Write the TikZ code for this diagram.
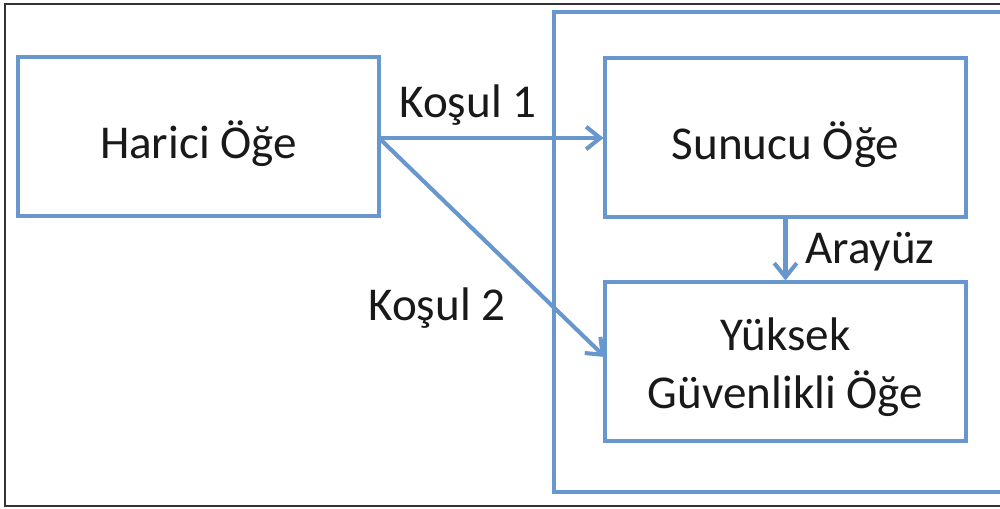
\documentclass[tikz,border=0pt]{standalone}
\usepackage{fontspec}
\setmainfont{Carlito}
\usetikzlibrary{arrows.meta}
\definecolor{boxblue}{RGB}{104,151,205}
\tikzset{
  box/.style={draw=boxblue, line width=2.2pt, minimum width=361*0.025cm, minimum height=159*0.025cm, inner sep=0pt},
  txt/.style={align=center, inner sep=0pt, font=\fontsize{33.5}{41}\selectfont, text=black!90},
  conn/.style={draw=boxblue, line width=2.9pt, -{Straight Barb[length=10pt,width=16pt,line width=2.9pt]}},
  lbl/.style={font=\fontsize{33.5}{41}\selectfont, inner sep=0pt, text=black!90}
}
\begin{document}
\begin{tikzpicture}[x=0.025cm,y=-0.025cm]
\useasboundingbox (0,0) rectangle (1000,508);
\begin{scope}
\clip (0,0) rectangle (1000,508);
\fill[white] (0,0) rectangle (1000,508);
\draw[line width=1.3pt, black!80] (1030,4) -- (5,4) -- (5,506) -- (1030,506);
\draw[boxblue, line width=2.2pt] (1030,12) -- (554,12) -- (554,492) -- (1030,492);
\end{scope}
\node[box] (h) at (198.5,136.5) {};
\node[box] (s) at (785.5,137.5) {};
\node[box] (y) at (785.5,361.5) {};
\node[txt] (ht) at ([yshift=-5pt]h.center) {Harici Öğe};
\node[txt] (st) at ([yshift=-5pt]s.center) {Sunucu Öğe};
\node[txt] (yt) at ([yshift=-4pt]y.center) {Yüksek\\Güvenlikli Öğe};
\coordinate (hs) at (379,138);
\coordinate (ye) at (605,357);
\draw[conn] (hs) -- (s.west |- hs);
\draw[conn] (hs) -- (ye);
\draw[conn] (s.south) -- (y.north);
\node[lbl] (k1) at (468,105) {Koşul 1};
\node[lbl] (k2) at (437,308) {Koşul 2};
\node[lbl, anchor=west] (ar) at (805,252) {Arayüz};
\end{tikzpicture}
\end{document}
